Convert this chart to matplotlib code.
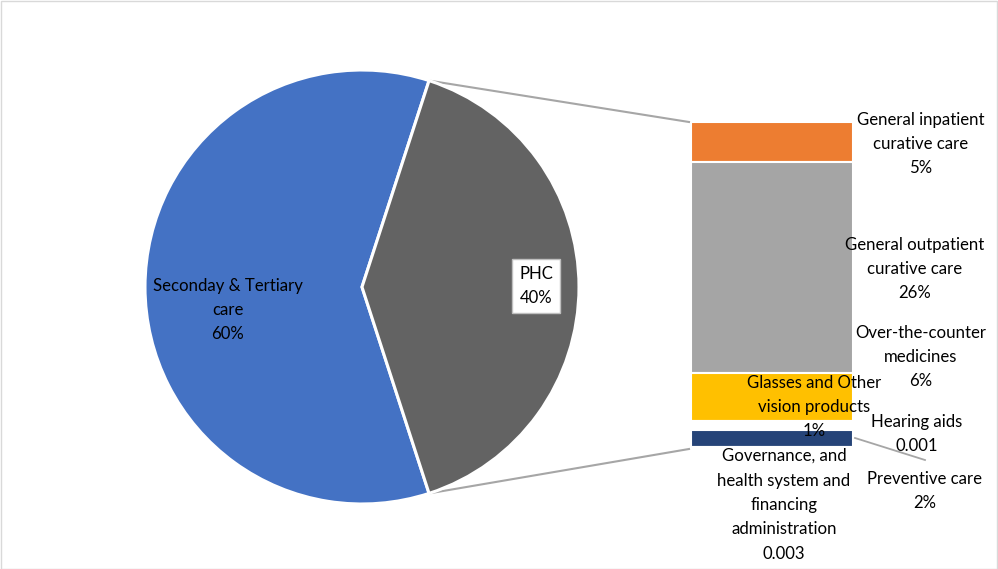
import matplotlib
matplotlib.use("Agg")
import matplotlib.pyplot as plt
import numpy as np
from matplotlib.patches import Rectangle

# main split of spending
pie_labels = ["Seconday & Tertiary\ncare", "PHC"]
pie_shares = [0.60, 0.40]
pie_colors = ["#4472C4", "#636363"]

# breakdown of PHC, top to bottom in the stacked bar
bar_labels = [
    "General inpatient\ncurative care",
    "General outpatient\ncurative care",
    "Over-the-counter\nmedicines",
    "Glasses and Other\nvision products",
    "Hearing aids",
    "Preventive care",
    "Governance, and\nhealth system and\nfinancing\nadministration",
]
bar_shares = [0.05, 0.26, 0.06, 0.01, 0.001, 0.02, 0.003]
bar_formats = ["{:.0%}", "{:.0%}", "{:.0%}", "{:.0%}", "{:.3f}", "{:.0%}", "{:.3f}"]
bar_colors = ["#ED7D31", "#A5A5A5", "#FFC000", "#FFFFFF", "#FFFFFF", "#264478", "#FFFFFF"]

# label anchor points (pixels, y measured from top)
bar_label_pos = [(921, 144), (915, 269), (921, 357), (814, 407),
                 (917, 434), (925, 491), (784, 505)]

W, H = 998, 569
FONT = "Lato"
FS = 12.1
LS = 1.65

fig = plt.figure(figsize=(W / 100, H / 100), dpi=100)

# stacked bar for PHC components
bar_left, bar_right, bar_top, bar_bot = 691, 853, 122, 449
bax = fig.add_axes([bar_left / W, 1 - bar_bot / H, (bar_right - bar_left) / W, (bar_bot - bar_top) / H])
bax.set_zorder(1)
total = sum(bar_shares)
bottom = 0.0
for share, col in zip(bar_shares, bar_colors):
    bax.bar(0, share, bottom=bottom, width=1.0, color=col, edgecolor="white", linewidth=1.5)
    bottom += share
bax.set_xlim(-0.5, 0.5)
bax.set_ylim(total, 0)
bax.axis("off")

ax = fig.add_axes([0, 0, 1, 1])
ax.set_zorder(2)
ax.patch.set_alpha(0)

cx, cy, r = 362, H - 287, 217
start = 72
wedges, _ = ax.pie(pie_shares, colors=pie_colors, startangle=start, counterclock=True,
                   center=(cx, cy), radius=r,
                   wedgeprops=dict(edgecolor="white", linewidth=2.2))
ax.set_xlim(0, W)
ax.set_ylim(0, H)
ax.set_aspect("auto")
ax.axis("off")

# pie labels
ax.text(228, H - 310, f"{pie_labels[0]}\n{pie_shares[0]:.0%}", ha="center", va="center",
        fontsize=FS, family=FONT, color="black", linespacing=LS)
ax.text(536, H - 286, f"{pie_labels[1]}\n{pie_shares[1]:.0%}", ha="center", va="center",
        fontsize=FS, family=FONT, color="black", linespacing=LS,
        bbox=dict(boxstyle="square,pad=0.4", facecolor="white", edgecolor="#bfbfbf", linewidth=1))

# connector lines from the PHC slice edges to the bar corners
for ang, y_img in [(start, bar_top), (start - pie_shares[1] * 360, bar_bot)]:
    px = cx + r * np.cos(np.radians(ang))
    py = cy + r * np.sin(np.radians(ang))
    ax.plot([px, bar_left - 2], [py, H - y_img], color="#A6A6A6", linewidth=1.5, zorder=0)

# leader line for preventive care
ax.plot([855, 925], [H - 438, H - 460], color="#A6A6A6", linewidth=1.3)

for lab, share, fmt, (x, y) in zip(bar_labels, bar_shares, bar_formats, bar_label_pos):
    ax.text(x, H - y, f"{lab}\n{fmt.format(share)}", ha="center", va="center",
            fontsize=FS, family=FONT, color="black", linespacing=LS, zorder=5)

# chart border
ax.add_patch(Rectangle((0.5, 0.5), W - 1.5, H - 1.5, fill=False, edgecolor="#D9D9D9", linewidth=1))

fig.savefig("out.png", dpi=100)
